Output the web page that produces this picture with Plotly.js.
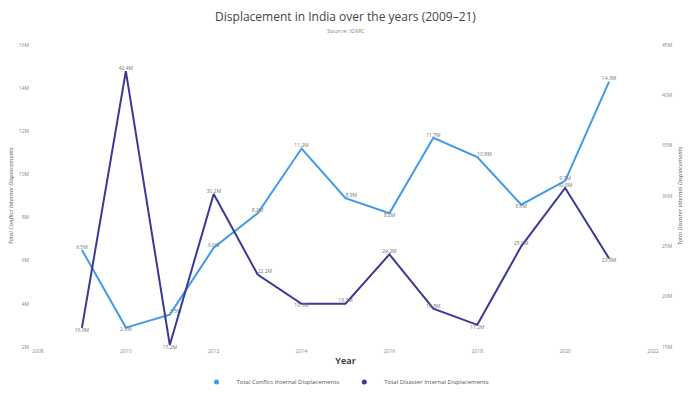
<!DOCTYPE html>
<html>
<head>
<meta charset="utf-8">
<script src="https://cdn.plot.ly/plotly-3.0.1.min.js"></script>
<style>html,body{margin:0;padding:0;background:#fff}#chart{width:700px;height:393px}</style>
</head>
<body>
<div id="chart"></div>
<script>
var years = [2009,2010,2011,2012,2013,2014,2015,2016,2017,2018,2019,2020,2021];
var conflictM = [6.5,2.9,3.5,6.6,8.2,11.2,8.9,8.2,11.7,10.8,8.6,9.7,14.3];
var disasterM = [16.9,42.4,15.2,30.2,22.2,19.3,19.3,24.2,18.8,17.2,25.0,30.8,23.8];
var conflictPos = ['top center','bottom center','top right','top center','top center','top center','top right','bottom center','top center','top right','bottom center','top center','top center'];
var disasterPos = ['bottom center','top center','bottom center','top center','top right','bottom center','top center','top center','top center','bottom center','top center','top center','bottom center'];
var conflictName = 'Total Conflict Internal Displacements';
var disasterName = 'Total Disaster Internal Displacements';
var cLight = '#3f9be8', cDark = '#3a3a96';

function lbl(v){return v.map(function(x){return x.toFixed(1)+'M';});}

var data = [
  {x: years, y: conflictM, type:'scatter', mode:'lines+text', name: conflictName, showlegend:false,
   line:{color:cLight, width:2}, text: lbl(conflictM), textposition: conflictPos,
   textfont:{size:5, color:'#777'}, yaxis:'y', cliponaxis:false},
  {x: years, y: disasterM, type:'scatter', mode:'lines+text', name: disasterName, showlegend:false,
   line:{color:cDark, width:2}, text: lbl(disasterM), textposition: disasterPos,
   textfont:{size:5, color:'#777'}, yaxis:'y2', cliponaxis:false},
  {x:[null], y:[null], type:'scatter', mode:'markers', name: conflictName, marker:{color:cLight, size:5}},
  {x:[null], y:[null], type:'scatter', mode:'markers', name: disasterName, marker:{color:cDark, size:5}, yaxis:'y2'}
];

var tickFont = {family:'Open Sans, sans-serif', size:5, color:'#888'};
var layout = {
  width:700, height:393,
  margin:{l:38, r:47, t:45, b:46, autoexpand:false},
  paper_bgcolor:'#fff', plot_bgcolor:'#fff',
  font:{family:'Open Sans, sans-serif', color:'#444'},
  title:{text:'Displacement in India over the years (2009–21)',
         x:0.5, xanchor:'center', xref:'paper', yref:'container', y:0.957, yanchor:'middle',
         font:{family:'Open Sans, sans-serif', size:12, color:'#444'}},
  annotations:[{text:'Source: IDMC', xref:'paper', yref:'paper', x:0.5, y:1.045, yanchor:'middle', xanchor:'center',
                showarrow:false, font:{size:6, color:'#888'}}],
  xaxis:{range:[2008,2022], dtick:2, tick0:2008, showgrid:false, zeroline:false, showline:false, ticks:'',
         tickfont:tickFont, automargin:false, title:{text:'<b>Year</b>', font:{size:9, color:'#444'}, standoff:10}},
  yaxis:{range:[2,16], dtick:2, tick0:2, ticksuffix:'M', showgrid:false, zeroline:false, showline:false, automargin:false,
         tickfont:tickFont, ticklabelstandoff:8, title:{text:'<i>Total Conflict Internal Displacements</i>', font:{size:6, color:'#555'}, standoff:4}},
  yaxis2:{range:[15,45], dtick:5, tick0:15, ticksuffix:'M', overlaying:'y', side:'right', showgrid:false, zeroline:false, showline:false, automargin:false,
          tickfont:tickFont, ticklabelstandoff:8, title:{text:'<i>Total Disaster Internal Displacements</i>', font:{size:6, color:'#555'}, standoff:6}},
  legend:{orientation:'h', x:0.5, xanchor:'center', yref:'container', y:0.028, yanchor:'middle', font:{size:6, color:'#555'}, tracegroupgap:0}
};
Plotly.newPlot('chart', data, layout, {displayModeBar:false, staticPlot:true});
</script>
</body>
</html>
